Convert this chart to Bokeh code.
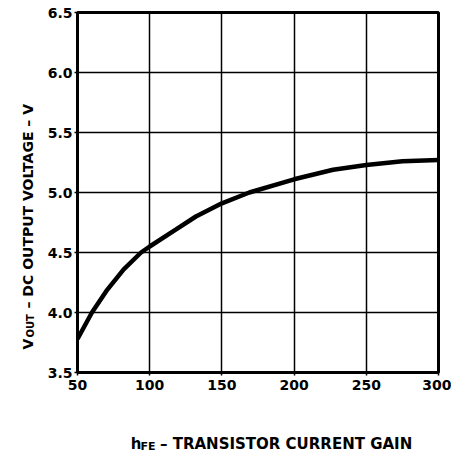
import math
from bokeh.plotting import figure
from bokeh.layouts import row, column
from bokeh.models import Range1d, FixedTicker, PrintfTickFormatter, Label
from bokeh.embed import file_html
from bokeh.resources import INLINE

# Data
hfe = [50, 60, 70, 82, 94, 100, 118, 132, 150, 169, 200, 227, 250, 275, 300]
vout = [3.78, 4.0, 4.18, 4.36, 4.5, 4.55, 4.69, 4.80, 4.91, 5.0, 5.11, 5.19, 5.23, 5.26, 5.27]
x_ticks = [50, 100, 150, 200, 250, 300]
y_ticks = [3.5, 4.0, 4.5, 5.0, 5.5, 6.0, 6.5]

FONT = "DejaVu Sans"

# ---------- main chart ----------
p = figure(width=407, height=402, output_backend="svg", toolbar_location=None,
           x_range=Range1d(50, 300), y_range=Range1d(3.5, 6.5),
           min_border_left=32, min_border_right=13, min_border_top=12, min_border_bottom=30)
p.background_fill_color = "white"
p.border_fill_color = "white"
p.outline_line_color = "black"
p.outline_line_width = 3

for ax in (p.xaxis[0], p.yaxis[0]):
    ax.axis_line_color = "black"
    ax.axis_line_width = 3
    ax.major_tick_line_color = "black"
    ax.major_tick_line_width = 1.5
    ax.major_tick_out = 3
    ax.major_tick_in = 0
    ax.minor_tick_line_color = None
    ax.major_label_text_font = FONT
    ax.major_label_text_font_style = "bold"
    ax.major_label_text_font_size = "14px"
    ax.major_label_text_color = "black"
p.xaxis[0].major_label_standoff = 4
p.yaxis[0].major_label_standoff = 2

p.xaxis[0].ticker = FixedTicker(ticks=x_ticks)
p.yaxis[0].ticker = FixedTicker(ticks=y_ticks)
p.yaxis[0].formatter = PrintfTickFormatter(format="%.1f")

p.xgrid[0].ticker = FixedTicker(ticks=x_ticks)
p.ygrid[0].ticker = FixedTicker(ticks=y_ticks)
for g in (p.xgrid[0], p.ygrid[0]):
    g.grid_line_color = "black"
    g.grid_line_width = 1.5
    g.grid_line_alpha = 1.0

p.line(hfe, vout, line_color="black", line_width=4.5)


def blank(w, h):
    f = figure(width=w, height=h, output_backend="svg", toolbar_location=None,
               x_range=Range1d(0, w), y_range=Range1d(0, h),
               x_axis_type=None, y_axis_type=None, title=None,
               min_border=0, min_border_left=0, min_border_right=0,
               min_border_top=0, min_border_bottom=0)
    f.grid.visible = False
    f.outline_line_color = None
    f.background_fill_color = "white"
    f.border_fill_color = "white"
    return f


def lab(f, text, x, y, size, angle=0.0):
    f.add_layout(Label(x=x, y=y, text=text, angle=angle, text_font=FONT,
                       text_font_style="bold", text_font_size=size, text_color="black",
                       text_align="left", text_baseline="alphabetic"))


# ---------- x-axis title: h_FE – TRANSISTOR CURRENT GAIN ----------
xf = blank(407, 51)
lab(xf, "h", 60, 10, "15px")
lab(xf, "FE", 71, 7, "11px")
lab(xf, "– TRANSISTOR CURRENT GAIN", 93, 10, "15px")

# ---------- y-axis title (rotated): V_OUT – DC OUTPUT VOLTAGE – V ----------
yf = blank(44, 453)
a = math.pi / 2
lab(yf, "V", 27, 104, "14px", a)
lab(yf, "OUT", 30, 116, "10px", a)
lab(yf, "– DC OUTPUT VOLTAGE – V", 27, 145, "14px", a)

layout = row(yf, column(p, xf, spacing=0), spacing=0)
open("out.html", "w").write(file_html(layout, INLINE))
